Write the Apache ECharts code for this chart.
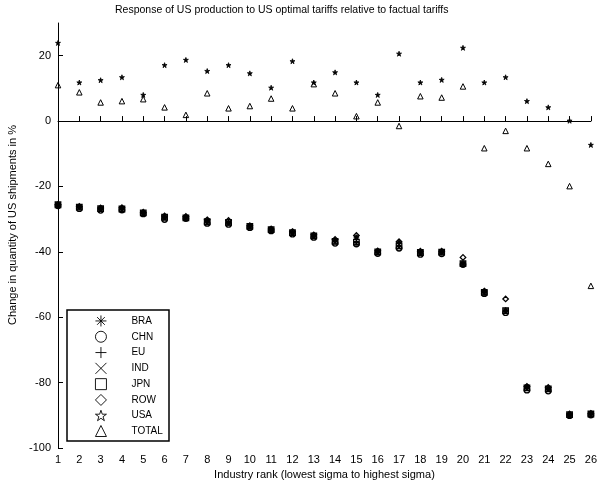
<!DOCTYPE html>
<html>
<head>
<meta charset="utf-8">
<script src="https://cdn.jsdelivr.net/npm/echarts@6/dist/echarts.min.js"></script>
<style>
  body { margin: 0; background: #fff; }
  #myChart1 { width: 600px; height: 486px; }
</style>
</head>
<body>
<div id="myChart1"></div>
<script>
// industry rank 1..26
var ranks = [1,2,3,4,5,6,7,8,9,10,11,12,13,14,15,16,17,18,19,20,21,22,23,24,25,26];
var yTicks = [-100, -80, -60, -40, -20, 0, 20];

// change in quantity of US shipments (%)
var bra = [-25.6,-26.2,-26.6,-26.6,-28.0,-29.2,-29.4,-30.5,-31.0,-32.0,-33.0,-34.0,-35.0,-36.5,-35.5,-39.8,-37.0,-40.0,-40.0,-43.5,-52.2,-57.8,-81.2,-81.8,-89.8,-89.4];
var chn = [-25.9,-26.8,-27.3,-27.2,-28.4,-30.1,-29.8,-31.3,-31.6,-32.6,-33.6,-34.6,-35.6,-37.4,-37.6,-40.5,-38.9,-40.8,-40.6,-43.9,-52.8,-58.6,-82.3,-82.6,-90.1,-89.9];
var eu  = [-25.7,-26.4,-26.9,-26.8,-28.2,-29.6,-29.5,-30.9,-31.2,-32.3,-33.3,-34.2,-35.2,-36.9,-37.2,-40.2,-38.4,-40.3,-40.3,-43.7,-52.5,-58.1,-81.7,-82.0,-89.9,-89.7];
var ind = [-25.8,-26.5,-27.0,-27.1,-28.3,-29.9,-29.7,-31.1,-31.4,-32.5,-33.4,-34.4,-35.4,-37.1,-37.4,-40.3,-38.6,-40.5,-40.4,-43.8,-52.7,-58.3,-81.9,-82.3,-90.0,-89.8];
var jpn = [-25.6,-26.3,-26.8,-26.9,-28.1,-29.4,-29.6,-30.8,-31.0,-32.2,-33.2,-34.1,-35.1,-36.8,-37.0,-40.0,-38.2,-40.2,-40.1,-43.6,-52.4,-58.0,-81.6,-81.9,-89.8,-89.6];
var row = [-25.5,-26.1,-26.6,-26.5,-27.9,-29.0,-29.2,-30.2,-30.4,-32.0,-33.0,-33.8,-34.8,-36.2,-35.0,-39.7,-36.9,-39.8,-39.8,-41.7,-52.0,-54.4,-81.2,-81.5,-89.6,-89.4];
var usa = [23.9,11.8,12.5,13.4,8.0,17.1,18.7,15.3,17.1,14.6,10.2,18.3,11.8,14.9,11.8,8.0,20.6,11.8,12.6,22.4,11.8,13.4,6.1,4.2,0.1,-7.3];
var total = [11.0,8.8,5.7,6.1,6.7,4.2,1.9,8.5,3.9,4.6,6.9,3.9,11.3,8.5,1.5,5.7,-1.5,7.6,7.2,10.6,-8.3,-3.0,-8.3,-13.1,-19.9,-50.4];

var names = ['BRA', 'CHN', 'EU', 'IND', 'JPN', 'ROW', 'USA', 'TOTAL'];
var values = [bra, chn, eu, ind, jpn, row, usa, total];
var symbols = [
  'path://M5 0L5 10M0 5L10 5M1.5 1.5L8.5 8.5M8.5 1.5L1.5 8.5',
  'circle',
  'path://M5 0L5 10M0 5L10 5',
  'path://M0 0L10 10M10 0L0 10',
  'rect',
  'diamond',
  'path://M5 0L6.2 3.6L10 3.6L6.9 5.9L8.1 9.5L5 7.3L1.9 9.5L3.1 5.9L0 3.6L3.8 3.6Z',
  'triangle'
];

function pairs(arr) {
  return ranks.map(function (r, i) { return [r, arr[i]]; });
}

var series = names.map(function (n, k) {
  var s = {
    name: n,
    type: 'scatter',
    data: pairs(values[k]),
    symbol: symbols[k],
    symbolSize: 5.5,
    itemStyle: { color: 'rgba(0,0,0,0)', borderColor: '#000', borderWidth: 1.3, opacity: 1 },
    emphasis: { disabled: true }
  };
  if (n === 'IND') s.symbolSize = 4;
  // tiny stars print as solid blobs
  if (n === 'USA') { s.symbolSize = 5; s.itemStyle.color = '#000'; s.itemStyle.borderWidth = 0.8; }
  if (n === 'TOTAL') { s.symbolSize = 5.5; s.itemStyle.borderWidth = 1; }
  return s;
});
// dashed zero line
series[2].markLine = {
  silent: true,
  symbol: 'none',
  label: { show: false },
  lineStyle: { color: '#000', type: [4, 2], width: 1 },
  data: [{ yAxis: 0 }]
};

var legendData = names.map(function (n) {
  return { name: n, itemStyle: { color: 'rgba(0,0,0,0)', borderColor: '#000', borderWidth: 0.9 } };
});

let myChart = echarts.init(document.getElementById('myChart1'));
var option = {
  animation: false,
  textStyle: { fontFamily: 'Liberation Sans, Arial, sans-serif', color: '#000' },
  title: {
    text: 'Response of US production to US optimal tariffs relative to factual tariffs',
    left: 115,
    top: 5,
    padding: 0,
    textStyle: { fontSize: 10.5, fontWeight: 'normal', color: '#000', fontFamily: 'Liberation Sans, Arial, sans-serif' }
  },
  grid: { left: 58, right: 5, top: 23, bottom: 38 },
  legend: {
    orient: 'vertical',
    left: 95,
    top: 315,
    padding: 0,
    itemWidth: 11,
    itemHeight: 11,
    itemGap: 3.9,
    textStyle: { fontSize: 10, lineHeight: 11, color: '#000', padding: [0, 0, 0, 20] },
    data: legendData
  },
  xAxis: {
    type: 'value',
    min: 1,
    max: 26,
    interval: 1,
    name: 'Industry rank (lowest sigma to highest sigma)',
    nameLocation: 'middle',
    nameGap: 20,
    nameTextStyle: { fontSize: 11, color: '#000' },
    axisLine: { lineStyle: { color: '#000', width: 1 } },
    axisTick: { inside: true, length: 5, lineStyle: { color: '#000' } },
    axisLabel: { fontSize: 11, color: '#000', margin: 6 },
    splitLine: { show: false }
  },
  yAxis: {
    type: 'value',
    min: -100,
    max: 30,
    interval: 20,
    axisLine: { show: true, lineStyle: { color: '#000', width: 1 } },
    axisTick: { show: true, inside: true, length: 5, customValues: yTicks, lineStyle: { color: '#000' } },
    axisLabel: { fontSize: 11, color: '#000', margin: 7, customValues: yTicks },
    splitLine: { show: false }
  },
  graphic: [
    {
      type: 'rect',
      shape: { x: 67, y: 310, width: 102, height: 131 },
      style: { fill: 'none', stroke: '#000', lineWidth: 1.5 },
      z: 0
    },
    {
      type: 'text',
      x: 13, y: 225,
      rotation: Math.PI / 2,
      style: {
        text: 'Change in quantity of US shipments in %',
        fontSize: 11,
        fontFamily: 'Liberation Sans, Arial, sans-serif',
        fill: '#000',
        align: 'center',
        verticalAlign: 'middle'
      }
    }
  ],
  series: series
};
myChart.setOption(option, true);
</script>
</body>
</html>
